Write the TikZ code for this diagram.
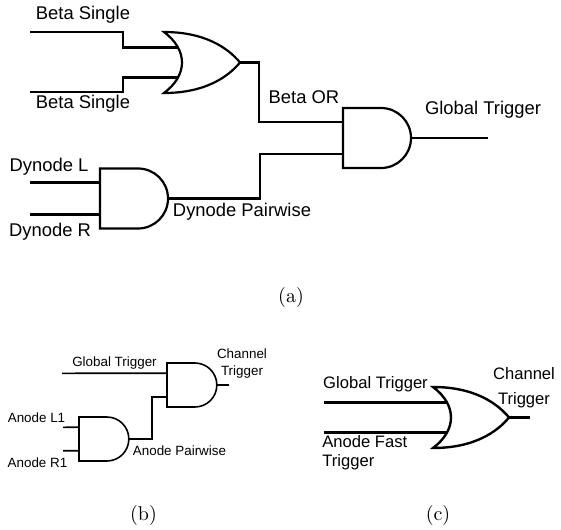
\documentclass[tikz,border=0pt]{standalone}
\usepackage{fontspec}
\newfontfamily\gatefont{Liberation Sans}

\tikzset{
  andgate/.pic={
    \draw (0,-30) -- (38,-30) .. controls (54.6,-30) and (68,-16.6) .. (68,0)
      .. controls (68,16.6) and (54.6,30) .. (38,30) -- (0,30) -- cycle;
    \coordinate (-in1) at (0,-16);
    \coordinate (-in2) at (0,16);
    \coordinate (-out) at (68,0);
  },
  orgate/.pic={
    \draw (0,-30.5) .. controls (41,-30.5) and (64,-14.5) .. (76,0)
      .. controls (64,14.5) and (41,30.5) .. (0,30.5)
      .. controls (24,12.5) and (24,-12.5) .. (0,-30.5) -- cycle;
    \coordinate (-in1) at (13.5,-15);
    \coordinate (-in2) at (13.5,15);
    \coordinate (-out) at (76,0);
  }
}

\begin{document}
\begin{tikzpicture}[x=0.5pt,y=-0.5pt,
		wirea/.style={line width=1.1pt},
		wireb/.style={line width=0.8pt},
		wirec/.style={line width=1.2pt},
		lbla/.style={font=\gatefont\fontsize{9.2}{11}\selectfont,inner sep=0pt},
		lblb/.style={font=\gatefont\fontsize{6.7}{8.5}\selectfont,inner sep=0pt},
		lblc/.style={font=\gatefont\fontsize{8.3}{9.5}\selectfont,inner sep=0pt}]
	\useasboundingbox (0,0) rectangle (561,529);
	
	% (a)
	\pic[wirea] (orbeta) at (164,62.5) {orgate};
	\pic[wirea] (andglob) at (343,138) {andgate};
	\pic[wirea] (anddyn) at (100,198.5) {andgate};
	\coordinate (bs1) at (30,32);
	\coordinate (bs2) at (30,92);
	\coordinate (dl) at (30,182.5);
	\coordinate (dr) at (30,214.5);
	\coordinate (gt) at (488,138);
	\draw[wirea] (bs1) -- ++(93,0) |- (orbeta-in1);
	\draw[wirea] (bs2) -- ++(93,0) |- (orbeta-in2);
	\draw[wirea] (orbeta-out) -- ++(19,0) |- (andglob-in1);
	\draw[wirea] (anddyn-out) -- ++(92,0) |- (andglob-in2);
	\draw[wirea] (dl) -- (anddyn-in1);
	\draw[wirea] (dr) -- (anddyn-in2);
	\draw[wirea] (andglob-out) -- (gt);
	\node[lbla] (bslbl1) at (83,15) {Beta Single};
	\node[lbla] (bslbl2) at (83,104) {Beta Single};
	\node[lbla] (orlbl) at (304,97) {Beta OR};
	\node[lbla] (gtlbl) at (483,110) {Global Trigger};
	\node[lbla] (dllbl) at (49,167) {Dynode L};
	\node[lbla] (drlbl) at (50,232) {Dynode R};
	\node[lbla] (dplbl) at (242,212) {Dynode Pairwise};
	\node (capa) at (291,297) {(a)};
	
	% (b)
	\pic[wireb,scale=0.733] (andchan) at (167,385) {andgate};
	\pic[wireb,scale=0.733] (andan) at (79,439) {andgate};
	\coordinate (gtb) at (62,373.3);
	\coordinate (al1) at (63,427.3);
	\coordinate (ar1) at (63,450.7);
	\coordinate (ctb) at (229,385);
	\draw[wireb] (gtb) -- (andchan-in1);
	\draw[wireb] (andan-out) -- ++(23,0) |- (andchan-in2);
	\draw[wireb] (al1) -- (andan-in1);
	\draw[wireb] (ar1) -- (andan-in2);
	\draw[wireb] (andchan-out) -- (ctb);
	\node[lblb] (gtblbl) at (114.5,363) {Global Trigger};
	\node[lblb,align=center] (ctblbl) at (242,363.5) {Channel\\Trigger};
	\node[lblb] (al1lbl) at (36.5,418) {Anode L1};
	\node[lblb] (ar1lbl) at (37.5,463) {Anode R1};
	\node[lblb] (aplbl) at (179.5,451) {Anode Pairwise};
	\node (capb) at (143.5,515) {(b)};
	
	% (c)
	\pic[wirec] (orchan) at (433,417.5) {orgate};
	\coordinate (gtc) at (324,402.5);
	\coordinate (afc) at (324,432.5);
	\coordinate (ctc) at (530,417.5);
	\draw[wirec] (gtc) -- (orchan-in1);
	\draw[wirec] (afc) -- (orchan-in2);
	\draw[wirec] (orchan-out) -- (ctc);
	\node[lblc] (gtclbl) at (375.5,384) {Global Trigger};
	\node[lblc,align=center,font=\gatefont\fontsize{8.3}{12.5}\selectfont] (ctclbl) at (524,387.5) {Channel\\Trigger};
	\node[lblc,align=left,anchor=west] (afclbl) at (322,452.5) {Anode Fast\\Trigger};
	\node (capc) at (438,515) {(c)};
\end{tikzpicture}
\end{document}
